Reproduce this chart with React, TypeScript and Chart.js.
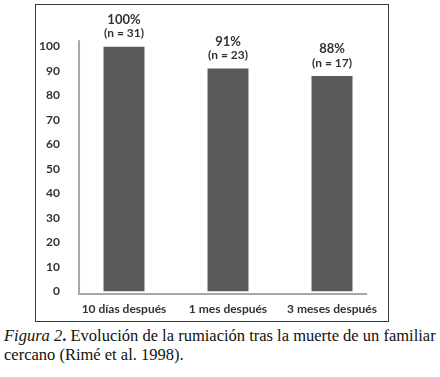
import React, { useEffect, useRef } from "react";
import { Chart, registerables } from "chart.js";

Chart.register(...registerables);

const categories = ["10 días después", "1 mes después", "3 meses después"];
const percentages = [100, 91, 88];
const sampleSizes = [31, 23, 17];
const yMin = 0;
const yMax = 100;
const yStep = 10;

const FONT = "Lato, 'Open Sans', sans-serif";
const TEXT = "#333333";

const axisLinesPlugin = {
  id: "axisLines",
  beforeDatasetsDraw(chart: any) {
    const { ctx } = chart;
    const x = chart.scales.x;
    const y = chart.scales.y;
    const left = x.getPixelForDecimal(0.0225);
    const right = x.getPixelForDecimal(0.946);
    const top = y.getPixelForValue(102.6);
    const bottom = y.getPixelForValue(-1.0);
    ctx.save();
    ctx.strokeStyle = "#a8a8a8";
    ctx.lineWidth = 2;
    ctx.beginPath();
    ctx.moveTo(left, top);
    ctx.lineTo(left, bottom);
    ctx.lineTo(right, bottom);
    ctx.stroke();
    ctx.restore();
  },
};

const labelsPlugin = {
  id: "barLabels",
  afterDatasetsDraw(chart: any) {
    const { ctx } = chart;
    const meta = chart.getDatasetMeta(0);
    ctx.save();
    ctx.fillStyle = TEXT;
    ctx.textAlign = "center";
    ctx.textBaseline = "middle";
    meta.data.forEach((bar: any, i: number) => {
      ctx.font = `bold 13px ${FONT}`;
      ctx.fillText(`${percentages[i]}%`, bar.x, bar.y - 27);
      ctx.font = `bold 12px ${FONT}`;
      ctx.fillText(`(n = ${sampleSizes[i]})`, bar.x, bar.y - 13);
    });
    ctx.restore();
  },
};

function BarChart() {
  const ref = useRef<HTMLCanvasElement>(null);
  useEffect(() => {
    if (!ref.current) return;
    const chart = new Chart(ref.current, {
      type: "bar",
      data: {
        labels: categories,
        datasets: [
          {
            data: percentages,
            backgroundColor: "#5a5a5c",
            borderWidth: 0,
            categoryPercentage: 1,
            barPercentage: 0.394,
          },
        ],
      },
      options: {
        responsive: false,
        animation: false,
        layout: { padding: { top: 41.5, right: 4, left: 0, bottom: 0 } },
        plugins: {
          legend: { display: false },
          tooltip: { enabled: false },
        },
        scales: {
          x: {
            grid: { display: false, drawTicks: false },
            border: { display: false },
            ticks: {
              color: TEXT,
              font: { family: FONT, size: 12, weight: "bold" },
              padding: 10,
              maxRotation: 0,
              autoSkip: false,
            },
            afterFit(scale: any) {
              scale.height = 29.5;
            },
          },
          y: {
            min: yMin,
            max: yMax,
            grid: { display: false, drawTicks: false },
            border: { display: false },
            ticks: {
              stepSize: yStep,
              color: TEXT,
              font: { family: FONT, size: 12, weight: "bold" },
              padding: 12,
            },
            afterFit(scale: any) {
              scale.width = 36;
            },
          },
        },
      },
      plugins: [axisLinesPlugin, labelsPlugin],
    });
    return () => chart.destroy();
  }, []);
  return (
    <canvas
      ref={ref}
      width={352}
      height={316}
      style={{ position: "absolute", left: 36, top: 5, width: 352, height: 316 }}
    />
  );
}

export default function App() {
  return (
    <div
      style={{
        position: "absolute",
        left: 0,
        top: 0,
        width: 440,
        height: 377,
        background: "#ffffff",
        overflow: "hidden",
      }}
    >
      <div
        style={{
          position: "absolute",
          left: 35,
          top: 4,
          width: 352,
          height: 316,
          border: "1px solid #3a3a3a",
        }}
      />
      <BarChart />
      <div
        style={{
          position: "absolute",
          left: 4,
          top: 326,
          width: 440,
          fontFamily: "'Liberation Serif', 'Times New Roman', serif",
          fontSize: 16.5,
          lineHeight: "19px",
          color: "#111",
          whiteSpace: "nowrap",
        }}
      >
        <div>
          <i>Figura 2</i>
          <b>.</b> Evolución de la rumiación tras la muerte de un familiar
        </div>
        <div>cercano (Rimé et al. 1998).</div>
      </div>
    </div>
  );
}
